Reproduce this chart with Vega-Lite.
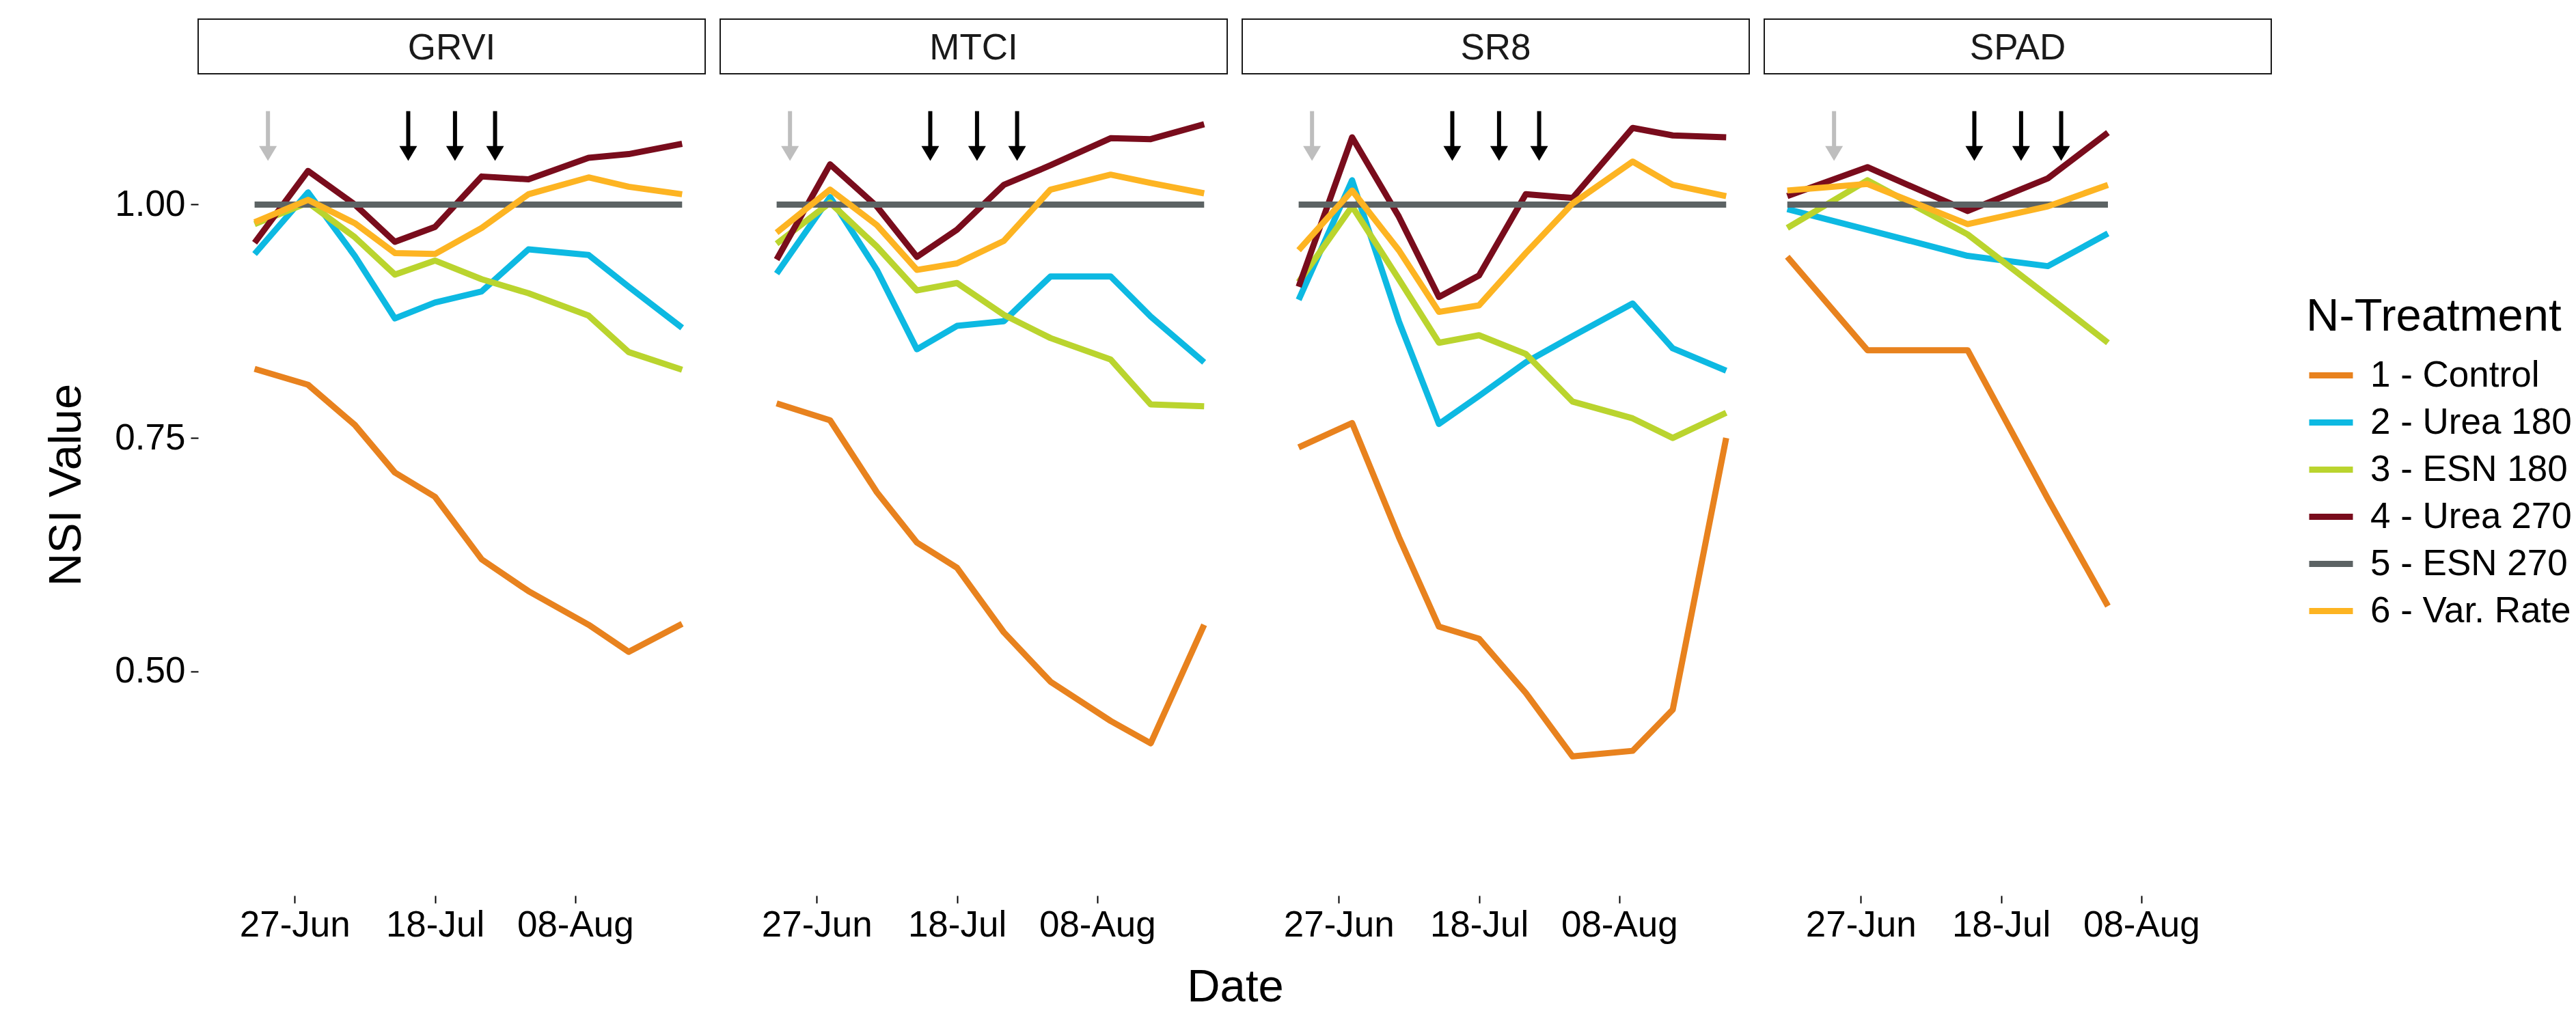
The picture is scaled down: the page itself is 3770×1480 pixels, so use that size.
{
  "$schema": "https://vega.github.io/schema/vega-lite/v6.json",
  "autosize": {"type": "none"},
  "padding": {"left": 290, "top": 28, "right": 3480, "bottom": 1452},
  "background": "white",
  "columns": 4,
  "spacing": {"row": 0, "column": 22},
  "bounds": "flush",
  "resolve": {
    "scale": {"color": "shared", "x": "independent", "y": "independent"},
    "axis": {"x": "independent", "y": "independent"},
    "legend": {"color": "shared"}
  },
  "datasets": {
    "arrows": [
      {"date": "2015/06/23", "kind": "early"},
      {"date": "2015/07/14", "kind": "in-season"},
      {"date": "2015/07/21", "kind": "in-season"},
      {"date": "2015/07/27", "kind": "in-season"}
    ],
    "nsi": [
      {"index": "GRVI", "treatment": "1 - Control", "date": "2015/06/21", "nsi": 0.824},
      {"index": "GRVI", "treatment": "1 - Control", "date": "2015/06/29", "nsi": 0.807},
      {"index": "GRVI", "treatment": "1 - Control", "date": "2015/07/06", "nsi": 0.764},
      {"index": "GRVI", "treatment": "1 - Control", "date": "2015/07/12", "nsi": 0.713},
      {"index": "GRVI", "treatment": "1 - Control", "date": "2015/07/18", "nsi": 0.687},
      {"index": "GRVI", "treatment": "1 - Control", "date": "2015/07/25", "nsi": 0.620},
      {"index": "GRVI", "treatment": "1 - Control", "date": "2015/08/01", "nsi": 0.586},
      {"index": "GRVI", "treatment": "1 - Control", "date": "2015/08/10", "nsi": 0.550},
      {"index": "GRVI", "treatment": "1 - Control", "date": "2015/08/16", "nsi": 0.521},
      {"index": "GRVI", "treatment": "1 - Control", "date": "2015/08/24", "nsi": 0.551},
      {"index": "GRVI", "treatment": "2 - Urea 180", "date": "2015/06/21", "nsi": 0.947},
      {"index": "GRVI", "treatment": "2 - Urea 180", "date": "2015/06/29", "nsi": 1.013},
      {"index": "GRVI", "treatment": "2 - Urea 180", "date": "2015/07/06", "nsi": 0.945},
      {"index": "GRVI", "treatment": "2 - Urea 180", "date": "2015/07/12", "nsi": 0.878},
      {"index": "GRVI", "treatment": "2 - Urea 180", "date": "2015/07/18", "nsi": 0.895},
      {"index": "GRVI", "treatment": "2 - Urea 180", "date": "2015/07/25", "nsi": 0.907},
      {"index": "GRVI", "treatment": "2 - Urea 180", "date": "2015/08/01", "nsi": 0.952},
      {"index": "GRVI", "treatment": "2 - Urea 180", "date": "2015/08/10", "nsi": 0.946},
      {"index": "GRVI", "treatment": "2 - Urea 180", "date": "2015/08/16", "nsi": 0.912},
      {"index": "GRVI", "treatment": "2 - Urea 180", "date": "2015/08/24", "nsi": 0.868},
      {"index": "GRVI", "treatment": "3 - ESN 180", "date": "2015/06/21", "nsi": 0.979},
      {"index": "GRVI", "treatment": "3 - ESN 180", "date": "2015/06/29", "nsi": 1.002},
      {"index": "GRVI", "treatment": "3 - ESN 180", "date": "2015/07/06", "nsi": 0.965},
      {"index": "GRVI", "treatment": "3 - ESN 180", "date": "2015/07/12", "nsi": 0.925},
      {"index": "GRVI", "treatment": "3 - ESN 180", "date": "2015/07/18", "nsi": 0.940},
      {"index": "GRVI", "treatment": "3 - ESN 180", "date": "2015/07/25", "nsi": 0.920},
      {"index": "GRVI", "treatment": "3 - ESN 180", "date": "2015/08/01", "nsi": 0.905},
      {"index": "GRVI", "treatment": "3 - ESN 180", "date": "2015/08/10", "nsi": 0.881},
      {"index": "GRVI", "treatment": "3 - ESN 180", "date": "2015/08/16", "nsi": 0.842},
      {"index": "GRVI", "treatment": "3 - ESN 180", "date": "2015/08/24", "nsi": 0.823},
      {"index": "GRVI", "treatment": "4 - Urea 270", "date": "2015/06/21", "nsi": 0.959},
      {"index": "GRVI", "treatment": "4 - Urea 270", "date": "2015/06/29", "nsi": 1.036},
      {"index": "GRVI", "treatment": "4 - Urea 270", "date": "2015/07/06", "nsi": 1.000},
      {"index": "GRVI", "treatment": "4 - Urea 270", "date": "2015/07/12", "nsi": 0.960},
      {"index": "GRVI", "treatment": "4 - Urea 270", "date": "2015/07/18", "nsi": 0.976},
      {"index": "GRVI", "treatment": "4 - Urea 270", "date": "2015/07/25", "nsi": 1.030},
      {"index": "GRVI", "treatment": "4 - Urea 270", "date": "2015/08/01", "nsi": 1.027},
      {"index": "GRVI", "treatment": "4 - Urea 270", "date": "2015/08/10", "nsi": 1.050},
      {"index": "GRVI", "treatment": "4 - Urea 270", "date": "2015/08/16", "nsi": 1.054},
      {"index": "GRVI", "treatment": "4 - Urea 270", "date": "2015/08/24", "nsi": 1.065},
      {"index": "GRVI", "treatment": "5 - ESN 270", "date": "2015/06/21", "nsi": 1.0},
      {"index": "GRVI", "treatment": "5 - ESN 270", "date": "2015/06/29", "nsi": 1.0},
      {"index": "GRVI", "treatment": "5 - ESN 270", "date": "2015/07/06", "nsi": 1.0},
      {"index": "GRVI", "treatment": "5 - ESN 270", "date": "2015/07/12", "nsi": 1.0},
      {"index": "GRVI", "treatment": "5 - ESN 270", "date": "2015/07/18", "nsi": 1.0},
      {"index": "GRVI", "treatment": "5 - ESN 270", "date": "2015/07/25", "nsi": 1.0},
      {"index": "GRVI", "treatment": "5 - ESN 270", "date": "2015/08/01", "nsi": 1.0},
      {"index": "GRVI", "treatment": "5 - ESN 270", "date": "2015/08/10", "nsi": 1.0},
      {"index": "GRVI", "treatment": "5 - ESN 270", "date": "2015/08/16", "nsi": 1.0},
      {"index": "GRVI", "treatment": "5 - ESN 270", "date": "2015/08/24", "nsi": 1.0},
      {"index": "GRVI", "treatment": "6 - Var. Rate", "date": "2015/06/21", "nsi": 0.981},
      {"index": "GRVI", "treatment": "6 - Var. Rate", "date": "2015/06/29", "nsi": 1.005},
      {"index": "GRVI", "treatment": "6 - Var. Rate", "date": "2015/07/06", "nsi": 0.980},
      {"index": "GRVI", "treatment": "6 - Var. Rate", "date": "2015/07/12", "nsi": 0.948},
      {"index": "GRVI", "treatment": "6 - Var. Rate", "date": "2015/07/18", "nsi": 0.947},
      {"index": "GRVI", "treatment": "6 - Var. Rate", "date": "2015/07/25", "nsi": 0.975},
      {"index": "GRVI", "treatment": "6 - Var. Rate", "date": "2015/08/01", "nsi": 1.011},
      {"index": "GRVI", "treatment": "6 - Var. Rate", "date": "2015/08/10", "nsi": 1.029},
      {"index": "GRVI", "treatment": "6 - Var. Rate", "date": "2015/08/16", "nsi": 1.019},
      {"index": "GRVI", "treatment": "6 - Var. Rate", "date": "2015/08/24", "nsi": 1.011},

      {"index": "MTCI", "treatment": "1 - Control", "date": "2015/06/21", "nsi": 0.787},
      {"index": "MTCI", "treatment": "1 - Control", "date": "2015/06/29", "nsi": 0.769},
      {"index": "MTCI", "treatment": "1 - Control", "date": "2015/07/06", "nsi": 0.692},
      {"index": "MTCI", "treatment": "1 - Control", "date": "2015/07/12", "nsi": 0.638},
      {"index": "MTCI", "treatment": "1 - Control", "date": "2015/07/18", "nsi": 0.611},
      {"index": "MTCI", "treatment": "1 - Control", "date": "2015/07/25", "nsi": 0.542},
      {"index": "MTCI", "treatment": "1 - Control", "date": "2015/08/01", "nsi": 0.489},
      {"index": "MTCI", "treatment": "1 - Control", "date": "2015/08/10", "nsi": 0.447},
      {"index": "MTCI", "treatment": "1 - Control", "date": "2015/08/16", "nsi": 0.423},
      {"index": "MTCI", "treatment": "1 - Control", "date": "2015/08/24", "nsi": 0.550},
      {"index": "MTCI", "treatment": "2 - Urea 180", "date": "2015/06/21", "nsi": 0.926},
      {"index": "MTCI", "treatment": "2 - Urea 180", "date": "2015/06/29", "nsi": 1.008},
      {"index": "MTCI", "treatment": "2 - Urea 180", "date": "2015/07/06", "nsi": 0.930},
      {"index": "MTCI", "treatment": "2 - Urea 180", "date": "2015/07/12", "nsi": 0.845},
      {"index": "MTCI", "treatment": "2 - Urea 180", "date": "2015/07/18", "nsi": 0.870},
      {"index": "MTCI", "treatment": "2 - Urea 180", "date": "2015/07/25", "nsi": 0.875},
      {"index": "MTCI", "treatment": "2 - Urea 180", "date": "2015/08/01", "nsi": 0.923},
      {"index": "MTCI", "treatment": "2 - Urea 180", "date": "2015/08/10", "nsi": 0.923},
      {"index": "MTCI", "treatment": "2 - Urea 180", "date": "2015/08/16", "nsi": 0.880},
      {"index": "MTCI", "treatment": "2 - Urea 180", "date": "2015/08/24", "nsi": 0.831},
      {"index": "MTCI", "treatment": "3 - ESN 180", "date": "2015/06/21", "nsi": 0.958},
      {"index": "MTCI", "treatment": "3 - ESN 180", "date": "2015/06/29", "nsi": 1.002},
      {"index": "MTCI", "treatment": "3 - ESN 180", "date": "2015/07/06", "nsi": 0.955},
      {"index": "MTCI", "treatment": "3 - ESN 180", "date": "2015/07/12", "nsi": 0.908},
      {"index": "MTCI", "treatment": "3 - ESN 180", "date": "2015/07/18", "nsi": 0.916},
      {"index": "MTCI", "treatment": "3 - ESN 180", "date": "2015/07/25", "nsi": 0.882},
      {"index": "MTCI", "treatment": "3 - ESN 180", "date": "2015/08/01", "nsi": 0.857},
      {"index": "MTCI", "treatment": "3 - ESN 180", "date": "2015/08/10", "nsi": 0.834},
      {"index": "MTCI", "treatment": "3 - ESN 180", "date": "2015/08/16", "nsi": 0.786},
      {"index": "MTCI", "treatment": "3 - ESN 180", "date": "2015/08/24", "nsi": 0.784},
      {"index": "MTCI", "treatment": "4 - Urea 270", "date": "2015/06/21", "nsi": 0.941},
      {"index": "MTCI", "treatment": "4 - Urea 270", "date": "2015/06/29", "nsi": 1.043},
      {"index": "MTCI", "treatment": "4 - Urea 270", "date": "2015/07/06", "nsi": 0.998},
      {"index": "MTCI", "treatment": "4 - Urea 270", "date": "2015/07/12", "nsi": 0.944},
      {"index": "MTCI", "treatment": "4 - Urea 270", "date": "2015/07/18", "nsi": 0.973},
      {"index": "MTCI", "treatment": "4 - Urea 270", "date": "2015/07/25", "nsi": 1.021},
      {"index": "MTCI", "treatment": "4 - Urea 270", "date": "2015/08/01", "nsi": 1.042},
      {"index": "MTCI", "treatment": "4 - Urea 270", "date": "2015/08/10", "nsi": 1.071},
      {"index": "MTCI", "treatment": "4 - Urea 270", "date": "2015/08/16", "nsi": 1.070},
      {"index": "MTCI", "treatment": "4 - Urea 270", "date": "2015/08/24", "nsi": 1.086},
      {"index": "MTCI", "treatment": "5 - ESN 270", "date": "2015/06/21", "nsi": 1.0},
      {"index": "MTCI", "treatment": "5 - ESN 270", "date": "2015/06/29", "nsi": 1.0},
      {"index": "MTCI", "treatment": "5 - ESN 270", "date": "2015/07/06", "nsi": 1.0},
      {"index": "MTCI", "treatment": "5 - ESN 270", "date": "2015/07/12", "nsi": 1.0},
      {"index": "MTCI", "treatment": "5 - ESN 270", "date": "2015/07/18", "nsi": 1.0},
      {"index": "MTCI", "treatment": "5 - ESN 270", "date": "2015/07/25", "nsi": 1.0},
      {"index": "MTCI", "treatment": "5 - ESN 270", "date": "2015/08/01", "nsi": 1.0},
      {"index": "MTCI", "treatment": "5 - ESN 270", "date": "2015/08/10", "nsi": 1.0},
      {"index": "MTCI", "treatment": "5 - ESN 270", "date": "2015/08/16", "nsi": 1.0},
      {"index": "MTCI", "treatment": "5 - ESN 270", "date": "2015/08/24", "nsi": 1.0},
      {"index": "MTCI", "treatment": "6 - Var. Rate", "date": "2015/06/21", "nsi": 0.970},
      {"index": "MTCI", "treatment": "6 - Var. Rate", "date": "2015/06/29", "nsi": 1.016},
      {"index": "MTCI", "treatment": "6 - Var. Rate", "date": "2015/07/06", "nsi": 0.978},
      {"index": "MTCI", "treatment": "6 - Var. Rate", "date": "2015/07/12", "nsi": 0.930},
      {"index": "MTCI", "treatment": "6 - Var. Rate", "date": "2015/07/18", "nsi": 0.937},
      {"index": "MTCI", "treatment": "6 - Var. Rate", "date": "2015/07/25", "nsi": 0.961},
      {"index": "MTCI", "treatment": "6 - Var. Rate", "date": "2015/08/01", "nsi": 1.016},
      {"index": "MTCI", "treatment": "6 - Var. Rate", "date": "2015/08/10", "nsi": 1.032},
      {"index": "MTCI", "treatment": "6 - Var. Rate", "date": "2015/08/16", "nsi": 1.023},
      {"index": "MTCI", "treatment": "6 - Var. Rate", "date": "2015/08/24", "nsi": 1.012},

      {"index": "SR8", "treatment": "1 - Control", "date": "2015/06/21", "nsi": 0.740},
      {"index": "SR8", "treatment": "1 - Control", "date": "2015/06/29", "nsi": 0.766},
      {"index": "SR8", "treatment": "1 - Control", "date": "2015/07/06", "nsi": 0.644},
      {"index": "SR8", "treatment": "1 - Control", "date": "2015/07/12", "nsi": 0.548},
      {"index": "SR8", "treatment": "1 - Control", "date": "2015/07/18", "nsi": 0.535},
      {"index": "SR8", "treatment": "1 - Control", "date": "2015/07/25", "nsi": 0.477},
      {"index": "SR8", "treatment": "1 - Control", "date": "2015/08/01", "nsi": 0.409},
      {"index": "SR8", "treatment": "1 - Control", "date": "2015/08/10", "nsi": 0.415},
      {"index": "SR8", "treatment": "1 - Control", "date": "2015/08/16", "nsi": 0.459},
      {"index": "SR8", "treatment": "1 - Control", "date": "2015/08/24", "nsi": 0.750},
      {"index": "SR8", "treatment": "2 - Urea 180", "date": "2015/06/21", "nsi": 0.898},
      {"index": "SR8", "treatment": "2 - Urea 180", "date": "2015/06/29", "nsi": 1.026},
      {"index": "SR8", "treatment": "2 - Urea 180", "date": "2015/07/06", "nsi": 0.875},
      {"index": "SR8", "treatment": "2 - Urea 180", "date": "2015/07/12", "nsi": 0.765},
      {"index": "SR8", "treatment": "2 - Urea 180", "date": "2015/07/18", "nsi": 0.795},
      {"index": "SR8", "treatment": "2 - Urea 180", "date": "2015/07/25", "nsi": 0.831},
      {"index": "SR8", "treatment": "2 - Urea 180", "date": "2015/08/01", "nsi": 0.859},
      {"index": "SR8", "treatment": "2 - Urea 180", "date": "2015/08/10", "nsi": 0.894},
      {"index": "SR8", "treatment": "2 - Urea 180", "date": "2015/08/16", "nsi": 0.846},
      {"index": "SR8", "treatment": "2 - Urea 180", "date": "2015/08/24", "nsi": 0.822},
      {"index": "SR8", "treatment": "3 - ESN 180", "date": "2015/06/21", "nsi": 0.917},
      {"index": "SR8", "treatment": "3 - ESN 180", "date": "2015/06/29", "nsi": 0.998},
      {"index": "SR8", "treatment": "3 - ESN 180", "date": "2015/07/06", "nsi": 0.920},
      {"index": "SR8", "treatment": "3 - ESN 180", "date": "2015/07/12", "nsi": 0.852},
      {"index": "SR8", "treatment": "3 - ESN 180", "date": "2015/07/18", "nsi": 0.860},
      {"index": "SR8", "treatment": "3 - ESN 180", "date": "2015/07/25", "nsi": 0.840},
      {"index": "SR8", "treatment": "3 - ESN 180", "date": "2015/08/01", "nsi": 0.789},
      {"index": "SR8", "treatment": "3 - ESN 180", "date": "2015/08/10", "nsi": 0.771},
      {"index": "SR8", "treatment": "3 - ESN 180", "date": "2015/08/16", "nsi": 0.750},
      {"index": "SR8", "treatment": "3 - ESN 180", "date": "2015/08/24", "nsi": 0.777},
      {"index": "SR8", "treatment": "4 - Urea 270", "date": "2015/06/21", "nsi": 0.912},
      {"index": "SR8", "treatment": "4 - Urea 270", "date": "2015/06/29", "nsi": 1.072},
      {"index": "SR8", "treatment": "4 - Urea 270", "date": "2015/07/06", "nsi": 0.987},
      {"index": "SR8", "treatment": "4 - Urea 270", "date": "2015/07/12", "nsi": 0.901},
      {"index": "SR8", "treatment": "4 - Urea 270", "date": "2015/07/18", "nsi": 0.924},
      {"index": "SR8", "treatment": "4 - Urea 270", "date": "2015/07/25", "nsi": 1.011},
      {"index": "SR8", "treatment": "4 - Urea 270", "date": "2015/08/01", "nsi": 1.007},
      {"index": "SR8", "treatment": "4 - Urea 270", "date": "2015/08/10", "nsi": 1.082},
      {"index": "SR8", "treatment": "4 - Urea 270", "date": "2015/08/16", "nsi": 1.074},
      {"index": "SR8", "treatment": "4 - Urea 270", "date": "2015/08/24", "nsi": 1.072},
      {"index": "SR8", "treatment": "5 - ESN 270", "date": "2015/06/21", "nsi": 1.0},
      {"index": "SR8", "treatment": "5 - ESN 270", "date": "2015/06/29", "nsi": 1.0},
      {"index": "SR8", "treatment": "5 - ESN 270", "date": "2015/07/06", "nsi": 1.0},
      {"index": "SR8", "treatment": "5 - ESN 270", "date": "2015/07/12", "nsi": 1.0},
      {"index": "SR8", "treatment": "5 - ESN 270", "date": "2015/07/18", "nsi": 1.0},
      {"index": "SR8", "treatment": "5 - ESN 270", "date": "2015/07/25", "nsi": 1.0},
      {"index": "SR8", "treatment": "5 - ESN 270", "date": "2015/08/01", "nsi": 1.0},
      {"index": "SR8", "treatment": "5 - ESN 270", "date": "2015/08/10", "nsi": 1.0},
      {"index": "SR8", "treatment": "5 - ESN 270", "date": "2015/08/16", "nsi": 1.0},
      {"index": "SR8", "treatment": "5 - ESN 270", "date": "2015/08/24", "nsi": 1.0},
      {"index": "SR8", "treatment": "6 - Var. Rate", "date": "2015/06/21", "nsi": 0.951},
      {"index": "SR8", "treatment": "6 - Var. Rate", "date": "2015/06/29", "nsi": 1.015},
      {"index": "SR8", "treatment": "6 - Var. Rate", "date": "2015/07/06", "nsi": 0.951},
      {"index": "SR8", "treatment": "6 - Var. Rate", "date": "2015/07/12", "nsi": 0.885},
      {"index": "SR8", "treatment": "6 - Var. Rate", "date": "2015/07/18", "nsi": 0.892},
      {"index": "SR8", "treatment": "6 - Var. Rate", "date": "2015/07/25", "nsi": 0.948},
      {"index": "SR8", "treatment": "6 - Var. Rate", "date": "2015/08/01", "nsi": 1.001},
      {"index": "SR8", "treatment": "6 - Var. Rate", "date": "2015/08/10", "nsi": 1.046},
      {"index": "SR8", "treatment": "6 - Var. Rate", "date": "2015/08/16", "nsi": 1.021},
      {"index": "SR8", "treatment": "6 - Var. Rate", "date": "2015/08/24", "nsi": 1.009},

      {"index": "SPAD", "treatment": "1 - Control", "date": "2015/06/16", "nsi": 0.944},
      {"index": "SPAD", "treatment": "1 - Control", "date": "2015/06/28", "nsi": 0.844},
      {"index": "SPAD", "treatment": "1 - Control", "date": "2015/07/13", "nsi": 0.844},
      {"index": "SPAD", "treatment": "1 - Control", "date": "2015/07/25", "nsi": 0.685},
      {"index": "SPAD", "treatment": "1 - Control", "date": "2015/08/03", "nsi": 0.570},
      {"index": "SPAD", "treatment": "2 - Urea 180", "date": "2015/06/16", "nsi": 0.995},
      {"index": "SPAD", "treatment": "2 - Urea 180", "date": "2015/06/28", "nsi": 0.973},
      {"index": "SPAD", "treatment": "2 - Urea 180", "date": "2015/07/13", "nsi": 0.945},
      {"index": "SPAD", "treatment": "2 - Urea 180", "date": "2015/07/25", "nsi": 0.934},
      {"index": "SPAD", "treatment": "2 - Urea 180", "date": "2015/08/03", "nsi": 0.969},
      {"index": "SPAD", "treatment": "3 - ESN 180", "date": "2015/06/16", "nsi": 0.975},
      {"index": "SPAD", "treatment": "3 - ESN 180", "date": "2015/06/28", "nsi": 1.026},
      {"index": "SPAD", "treatment": "3 - ESN 180", "date": "2015/07/13", "nsi": 0.968},
      {"index": "SPAD", "treatment": "3 - ESN 180", "date": "2015/07/25", "nsi": 0.902},
      {"index": "SPAD", "treatment": "3 - ESN 180", "date": "2015/08/03", "nsi": 0.852},
      {"index": "SPAD", "treatment": "4 - Urea 270", "date": "2015/06/16", "nsi": 1.009},
      {"index": "SPAD", "treatment": "4 - Urea 270", "date": "2015/06/28", "nsi": 1.040},
      {"index": "SPAD", "treatment": "4 - Urea 270", "date": "2015/07/13", "nsi": 0.993},
      {"index": "SPAD", "treatment": "4 - Urea 270", "date": "2015/07/25", "nsi": 1.028},
      {"index": "SPAD", "treatment": "4 - Urea 270", "date": "2015/08/03", "nsi": 1.077},
      {"index": "SPAD", "treatment": "5 - ESN 270", "date": "2015/06/16", "nsi": 1.0},
      {"index": "SPAD", "treatment": "5 - ESN 270", "date": "2015/06/28", "nsi": 1.0},
      {"index": "SPAD", "treatment": "5 - ESN 270", "date": "2015/07/13", "nsi": 1.0},
      {"index": "SPAD", "treatment": "5 - ESN 270", "date": "2015/07/25", "nsi": 1.0},
      {"index": "SPAD", "treatment": "5 - ESN 270", "date": "2015/08/03", "nsi": 1.0},
      {"index": "SPAD", "treatment": "6 - Var. Rate", "date": "2015/06/16", "nsi": 1.015},
      {"index": "SPAD", "treatment": "6 - Var. Rate", "date": "2015/06/28", "nsi": 1.022},
      {"index": "SPAD", "treatment": "6 - Var. Rate", "date": "2015/07/13", "nsi": 0.979},
      {"index": "SPAD", "treatment": "6 - Var. Rate", "date": "2015/07/25", "nsi": 0.998},
      {"index": "SPAD", "treatment": "6 - Var. Rate", "date": "2015/08/03", "nsi": 1.021}
    ]
  },
  "concat": [
    {"width": 742, "height": 80, "view": {"stroke": "#1A1A1A", "strokeWidth": 2}, "data": {"values": [{"index": "GRVI"}]}, "mark": {"type": "text", "fontSize": 53, "color": "#1A1A1A", "dy": 3}, "encoding": {"text": {"field": "index", "type": "nominal"}}},
    {"width": 742, "height": 80, "view": {"stroke": "#1A1A1A", "strokeWidth": 2}, "data": {"values": [{"index": "MTCI"}]}, "mark": {"type": "text", "fontSize": 53, "color": "#1A1A1A", "dy": 3}, "encoding": {"text": {"field": "index", "type": "nominal"}}},
    {"width": 742, "height": 80, "view": {"stroke": "#1A1A1A", "strokeWidth": 2}, "data": {"values": [{"index": "SR8"}]}, "mark": {"type": "text", "fontSize": 53, "color": "#1A1A1A", "dy": 3}, "encoding": {"text": {"field": "index", "type": "nominal"}}},
    {"width": 742, "height": 80, "view": {"stroke": "#1A1A1A", "strokeWidth": 2}, "data": {"values": [{"index": "SPAD"}]}, "mark": {"type": "text", "fontSize": 53, "color": "#1A1A1A", "dy": 3}, "encoding": {"text": {"field": "index", "type": "nominal"}}},
    {
      "width": 742, "height": 1203,
      "layer": [
        {
          "data": {"name": "nsi"},
          "transform": [{"filter": "datum.index === 'GRVI'"}],
          "mark": {"type": "line", "strokeWidth": 9, "strokeCap": "butt", "strokeJoin": "round"},
          "encoding": {
            "x": {"field": "date", "type": "temporal", "scale": {"domain": [{"year": 2015, "month": 6, "date": 12, "hours": 13, "minutes": 12}, {"year": 2015, "month": 8, "date": 27, "hours": 10, "minutes": 48}]}, "axis": {"values": [{"year": 2015, "month": 6, "date": 27}, {"year": 2015, "month": 7, "date": 18}, {"year": 2015, "month": 8, "date": 8}], "format": "%d-%b", "title": null}},
            "y": {"field": "nsi", "type": "quantitative", "scale": {"domain": [0.26, 1.14], "nice": false, "zero": false}, "axis": {"values": [0.5, 0.75, 1.0], "format": ".2f", "title": "NSI Value", "titlePadding": 36, "labelPadding": 8}},
            "color": {"field": "treatment", "type": "nominal", "scale": {"domain": ["1 - Control", "2 - Urea 180", "3 - ESN 180", "4 - Urea 270", "5 - ESN 270", "6 - Var. Rate"], "range": ["#E8821E", "#0DB9E2", "#BAD42E", "#790C1C", "#5C6364", "#FDB422"]}, "legend": {"title": "N-Treatment", "orient": "none", "legendX": 3085, "legendY": 403}}
          }
        },
        {
          "data": {"name": "arrows"},
          "mark": {"type": "rule", "strokeWidth": 6, "strokeCap": "butt"},
          "encoding": {
            "x": {"field": "date", "type": "temporal"},
            "y": {"datum": 1.1},
            "y2": {"datum": 1.058},
            "color": {"condition": {"test": "datum.kind === 'early'", "value": "#BEBEBE"}, "value": "#000000"}
          }
        },
        {
          "data": {"name": "arrows"},
          "mark": {"type": "point", "shape": "M-1,-0.84L1,-0.84L0,0.84Z", "size": 676, "filled": true, "opacity": 1, "strokeWidth": 0},
          "encoding": {
            "x": {"field": "date", "type": "temporal"},
            "y": {"datum": 1.0547},
            "color": {"condition": {"test": "datum.kind === 'early'", "value": "#BEBEBE"}, "value": "#000000"}
          }
        }
      ]
    },
    {
      "width": 742, "height": 1203,
      "layer": [
        {
          "data": {"name": "nsi"},
          "transform": [{"filter": "datum.index === 'MTCI'"}],
          "mark": {"type": "line", "strokeWidth": 9, "strokeCap": "butt", "strokeJoin": "round"},
          "encoding": {
            "x": {"field": "date", "type": "temporal", "scale": {"domain": [{"year": 2015, "month": 6, "date": 12, "hours": 13, "minutes": 12}, {"year": 2015, "month": 8, "date": 27, "hours": 10, "minutes": 48}]}, "axis": {"values": [{"year": 2015, "month": 6, "date": 27}, {"year": 2015, "month": 7, "date": 18}, {"year": 2015, "month": 8, "date": 8}], "format": "%d-%b", "title": "Date", "titleX": 753.5, "titleAlign": "center", "titlePadding": 31}},
            "y": {"field": "nsi", "type": "quantitative", "scale": {"domain": [0.26, 1.14], "nice": false, "zero": false}, "axis": null},
            "color": {"field": "treatment", "type": "nominal", "scale": {"domain": ["1 - Control", "2 - Urea 180", "3 - ESN 180", "4 - Urea 270", "5 - ESN 270", "6 - Var. Rate"], "range": ["#E8821E", "#0DB9E2", "#BAD42E", "#790C1C", "#5C6364", "#FDB422"]}, "legend": {"title": "N-Treatment", "orient": "none", "legendX": 3085, "legendY": 403}}
          }
        },
        {
          "data": {"name": "arrows"},
          "mark": {"type": "rule", "strokeWidth": 6, "strokeCap": "butt"},
          "encoding": {
            "x": {"field": "date", "type": "temporal"},
            "y": {"datum": 1.1},
            "y2": {"datum": 1.058},
            "color": {"condition": {"test": "datum.kind === 'early'", "value": "#BEBEBE"}, "value": "#000000"}
          }
        },
        {
          "data": {"name": "arrows"},
          "mark": {"type": "point", "shape": "M-1,-0.84L1,-0.84L0,0.84Z", "size": 676, "filled": true, "opacity": 1, "strokeWidth": 0},
          "encoding": {
            "x": {"field": "date", "type": "temporal"},
            "y": {"datum": 1.0547},
            "color": {"condition": {"test": "datum.kind === 'early'", "value": "#BEBEBE"}, "value": "#000000"}
          }
        }
      ]
    },
    {
      "width": 742, "height": 1203,
      "layer": [
        {
          "data": {"name": "nsi"},
          "transform": [{"filter": "datum.index === 'SR8'"}],
          "mark": {"type": "line", "strokeWidth": 9, "strokeCap": "butt", "strokeJoin": "round"},
          "encoding": {
            "x": {"field": "date", "type": "temporal", "scale": {"domain": [{"year": 2015, "month": 6, "date": 12, "hours": 13, "minutes": 12}, {"year": 2015, "month": 8, "date": 27, "hours": 10, "minutes": 48}]}, "axis": {"values": [{"year": 2015, "month": 6, "date": 27}, {"year": 2015, "month": 7, "date": 18}, {"year": 2015, "month": 8, "date": 8}], "format": "%d-%b", "title": null}},
            "y": {"field": "nsi", "type": "quantitative", "scale": {"domain": [0.26, 1.14], "nice": false, "zero": false}, "axis": null},
            "color": {"field": "treatment", "type": "nominal", "scale": {"domain": ["1 - Control", "2 - Urea 180", "3 - ESN 180", "4 - Urea 270", "5 - ESN 270", "6 - Var. Rate"], "range": ["#E8821E", "#0DB9E2", "#BAD42E", "#790C1C", "#5C6364", "#FDB422"]}, "legend": {"title": "N-Treatment", "orient": "none", "legendX": 3085, "legendY": 403}}
          }
        },
        {
          "data": {"name": "arrows"},
          "mark": {"type": "rule", "strokeWidth": 6, "strokeCap": "butt"},
          "encoding": {
            "x": {"field": "date", "type": "temporal"},
            "y": {"datum": 1.1},
            "y2": {"datum": 1.058},
            "color": {"condition": {"test": "datum.kind === 'early'", "value": "#BEBEBE"}, "value": "#000000"}
          }
        },
        {
          "data": {"name": "arrows"},
          "mark": {"type": "point", "shape": "M-1,-0.84L1,-0.84L0,0.84Z", "size": 676, "filled": true, "opacity": 1, "strokeWidth": 0},
          "encoding": {
            "x": {"field": "date", "type": "temporal"},
            "y": {"datum": 1.0547},
            "color": {"condition": {"test": "datum.kind === 'early'", "value": "#BEBEBE"}, "value": "#000000"}
          }
        }
      ]
    },
    {
      "width": 742, "height": 1203,
      "layer": [
        {
          "data": {"name": "nsi"},
          "transform": [{"filter": "datum.index === 'SPAD'"}],
          "mark": {"type": "line", "strokeWidth": 9, "strokeCap": "butt", "strokeJoin": "round"},
          "encoding": {
            "x": {"field": "date", "type": "temporal", "scale": {"domain": [{"year": 2015, "month": 6, "date": 12, "hours": 13, "minutes": 12}, {"year": 2015, "month": 8, "date": 27, "hours": 10, "minutes": 48}]}, "axis": {"values": [{"year": 2015, "month": 6, "date": 27}, {"year": 2015, "month": 7, "date": 18}, {"year": 2015, "month": 8, "date": 8}], "format": "%d-%b", "title": null}},
            "y": {"field": "nsi", "type": "quantitative", "scale": {"domain": [0.26, 1.14], "nice": false, "zero": false}, "axis": null},
            "color": {"field": "treatment", "type": "nominal", "scale": {"domain": ["1 - Control", "2 - Urea 180", "3 - ESN 180", "4 - Urea 270", "5 - ESN 270", "6 - Var. Rate"], "range": ["#E8821E", "#0DB9E2", "#BAD42E", "#790C1C", "#5C6364", "#FDB422"]}, "legend": {"title": "N-Treatment", "orient": "none", "legendX": 3085, "legendY": 403}}
          }
        },
        {
          "data": {"name": "arrows"},
          "mark": {"type": "rule", "strokeWidth": 6, "strokeCap": "butt"},
          "encoding": {
            "x": {"field": "date", "type": "temporal"},
            "y": {"datum": 1.1},
            "y2": {"datum": 1.058},
            "color": {"condition": {"test": "datum.kind === 'early'", "value": "#BEBEBE"}, "value": "#000000"}
          }
        },
        {
          "data": {"name": "arrows"},
          "mark": {"type": "point", "shape": "M-1,-0.84L1,-0.84L0,0.84Z", "size": 676, "filled": true, "opacity": 1, "strokeWidth": 0},
          "encoding": {
            "x": {"field": "date", "type": "temporal"},
            "y": {"datum": 1.0547},
            "color": {"condition": {"test": "datum.kind === 'early'", "value": "#BEBEBE"}, "value": "#000000"}
          }
        }
      ]
    }
  ],
  "config": {
    "font": "Liberation Sans",
    "view": {"stroke": null},
    "axis": {
      "grid": false,
      "domain": false,
      "ticks": true,
      "tickColor": "#000000",
      "tickSize": 11,
      "tickWidth": 2,
      "labelFontSize": 53,
      "labelColor": "#000000",
      "labelPadding": 6,
      "labelFlush": false,
      "labelOverlap": false,
      "titleFontSize": 67,
      "titleFontWeight": "normal",
      "titleColor": "#000000"
    },
    "legend": {
      "titleFontSize": 67,
      "titleFontWeight": "normal",
      "titleColor": "#000000",
      "titleLimit": 800,
      "titlePadding": 15,
      "labelFontSize": 53,
      "labelColor": "#000000",
      "labelLimit": 800,
      "labelOffset": 21,
      "symbolType": "stroke",
      "symbolSize": 4096,
      "symbolStrokeWidth": 9,
      "rowPadding": 5,
      "padding": 0
    }
  }
}
